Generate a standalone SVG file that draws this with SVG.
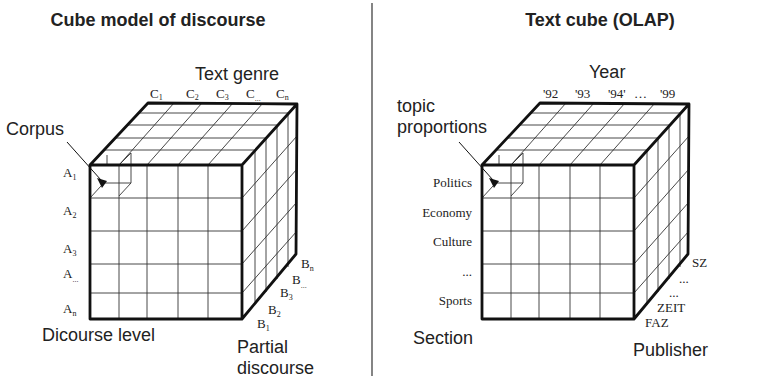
<svg xmlns="http://www.w3.org/2000/svg" width="769" height="379" viewBox="0 0 769 379">
<style>
.edge{stroke:#111;stroke-width:2.8;fill:none;stroke-linejoin:round;stroke-linecap:round}
.grid{stroke:#333;stroke-width:0.9;fill:none}
.lbl{font-family:"Liberation Sans",Arial,sans-serif;font-size:18px;fill:#222}
.ttl{font-family:"Liberation Sans",Arial,sans-serif;font-size:18px;font-weight:bold;fill:#222}
.ser{font-family:"Liberation Serif","Times New Roman",serif;font-size:13px;fill:#222}
.end{text-anchor:end}
.mid{text-anchor:middle}
</style>
<defs>
<g id="cube">
  <g class="grid">
    <path d="M119,165V319M147,165V319M178,165V319M208,165V319"/>
    <path d="M90,198H242M90,231H242M90,264H242M90,293H242"/>
    <path d="M104,150H255M115,138H266M127,125H277M139,113H288"/>
    <path d="M119,165L174,103M147,165L202,103M178,165L233,103M208,165L263,103"/>
    <path d="M255,150V304M266,138V292M277,125V279M288,113V267"/>
    <path d="M242,198L297,136M242,231L297,169M242,264L297,202M242,293L297,231"/>
    <path d="M104,183H131V153M131,183L119,196M90,198L101,186M107,155V165M131,153L119,165"/>
  </g>
  <path d="M67,142L101,180" stroke="#111" stroke-width="1" fill="none"/>
  <polygon points="97,178 107,181 102,188" fill="#111"/>
  <path class="edge" d="M90,165H242V319H90Z M90,165L148,103L297,104L242,165 M297,104L296,254L242,319"/>
</g>
</defs>
<line x1="372" y1="3" x2="372" y2="376" stroke="#333" stroke-width="1.2"/>
<g id="left-panel">
  <text class="ttl mid" x="158" y="26">Cube model of discourse</text>
  <g id="left-cube"><use href="#cube"/></g>
  <g id="left-labels">
    <text class="lbl" x="195" y="80">Text genre</text>
    <text class="lbl" x="6" y="135">Corpus</text>
    <text class="lbl" x="42" y="341">Dicourse level</text>
    <text class="lbl" x="237" y="353">Partial</text>
    <text class="lbl" x="237" y="374">discourse</text>
    <text class="ser" x="150" y="98">C<tspan font-size="8" dy="2">1</tspan></text>
    <text class="ser" x="186" y="98">C<tspan font-size="8" dy="2">2</tspan></text>
    <text class="ser" x="216" y="98">C<tspan font-size="8" dy="2">3</tspan></text>
    <text class="ser" x="246" y="98">C<tspan font-size="8" dy="3">...</tspan></text>
    <text class="ser" x="276" y="98">C<tspan font-size="8" dy="2">n</tspan></text>
    <text class="ser" x="63" y="177">A<tspan font-size="8" dy="3">1</tspan></text>
    <text class="ser" x="63" y="215">A<tspan font-size="8" dy="3">2</tspan></text>
    <text class="ser" x="63" y="253">A<tspan font-size="8" dy="3">3</tspan></text>
    <text class="ser" x="63" y="278">A<tspan font-size="8" dy="4">...</tspan></text>
    <text class="ser" x="63" y="313">A<tspan font-size="8" dy="3">n</tspan></text>
    <text class="ser" x="301" y="268">B<tspan font-size="8" dy="3">n</tspan></text>
    <text class="ser" x="292" y="284">B<tspan font-size="8" dy="4">...</tspan></text>
    <text class="ser" x="280" y="297">B<tspan font-size="8" dy="3">3</tspan></text>
    <text class="ser" x="268" y="314">B<tspan font-size="8" dy="3">2</tspan></text>
    <text class="ser" x="257" y="328">B<tspan font-size="8" dy="3">1</tspan></text>
  </g>
</g>
<g id="right-panel">
  <text class="ttl mid" x="600" y="26">Text cube (OLAP)</text>
  <g id="right-cube"><use href="#cube" transform="translate(392,0)"/></g>
  <g id="right-labels">
    <text class="lbl" x="589" y="78">Year</text>
    <text class="lbl" x="397" y="112">topic</text>
    <text class="lbl" x="397" y="133">proportions</text>
    <text class="lbl" x="413" y="344">Section</text>
    <text class="lbl" x="633" y="356">Publisher</text>
    <text class="ser" x="543" y="98">'92</text>
    <text class="ser" x="575" y="98">'93</text>
    <text class="ser" x="608" y="98">'94'</text>
    <text class="ser" x="634" y="98">…</text>
    <text class="ser" x="660" y="98">'99</text>
    <text class="ser end" x="472" y="187">Politics</text>
    <text class="ser end" x="472" y="217">Economy</text>
    <text class="ser end" x="472" y="246">Culture</text>
    <text class="ser end" x="472" y="276">...</text>
    <text class="ser end" x="472" y="305">Sports</text>
    <text class="ser" x="692" y="267">SZ</text>
    <text class="ser" x="679" y="283">...</text>
    <text class="ser" x="669" y="297">...</text>
    <text class="ser" x="657" y="312">ZEIT</text>
    <text class="ser" x="645" y="327">FAZ</text>
  </g>
</g>
</svg>
